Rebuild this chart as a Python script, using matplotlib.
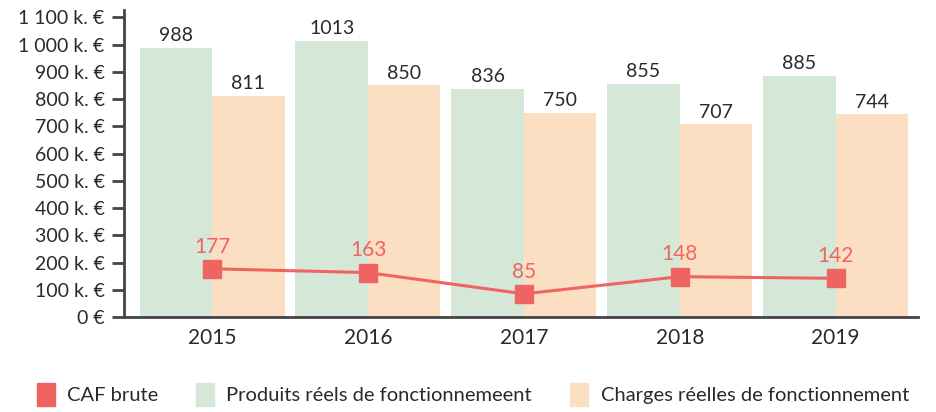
import numpy as np
import matplotlib.pyplot as plt
from matplotlib.ticker import FuncFormatter
from matplotlib.patches import Patch

plt.rcParams['font.family'] = ['Lato', 'DejaVu Sans']

# donnees
annees = ['2015', '2016', '2017', '2018', '2019']
produits = [988, 1013, 836, 855, 885]
charges = [811, 850, 750, 707, 744]
caf = [177, 163, 85, 148, 142]

c_vert = '#d5e8d8'
c_orange = '#fcdfc2'
c_rouge = '#ef6461'
c_texte = '#2a2a2a'

fig = plt.figure(figsize=(9.36, 4.12), dpi=100)
ax = fig.add_axes([0.1325, 0.2306, 0.8485, 0.7451])

x = np.arange(len(annees))
w = 0.465
ax.bar(x - w / 2, produits, w, color=c_vert, zorder=1)
ax.bar(x + w / 2, charges, w, color=c_orange, zorder=1)

for xi, v in zip(x, produits):
    ax.text(xi - w / 2, v + 14, str(v), ha='center', va='bottom', fontsize=14, color=c_texte)
for xi, v in zip(x, charges):
    ax.text(xi + w / 2, v + 14, str(v), ha='center', va='bottom', fontsize=14, color=c_texte)

ax.plot(x, caf, color=c_rouge, lw=2.2, marker='s', markersize=13, zorder=3)
for xi, v in zip(x, caf):
    ax.text(xi, v + 45, str(v), ha='center', va='bottom', fontsize=15, color=c_rouge)

def fmt(v, pos):
    if v == 0:
        return '0 €'
    s = f'{int(v):,}'.replace(',', ' ')
    return s + ' k. €'

ax.set_ylim(0, 1127)
ax.set_yticks(np.arange(0, 1101, 100))
ax.yaxis.set_major_formatter(FuncFormatter(fmt))
ax.set_xlim(-0.565, 4.53)
ax.set_xticks(x)
ax.set_xticklabels(annees)

for s in ['top', 'right']:
    ax.spines[s].set_visible(False)
for s in ['left', 'bottom']:
    ax.spines[s].set_color('#444444')
    ax.spines[s].set_linewidth(2)
ax.tick_params(axis='y', length=9, width=2, color='#444444', labelsize=14, labelcolor=c_texte, pad=5)
ax.tick_params(axis='x', length=0, labelsize=15, labelcolor=c_texte, pad=8)

handles = [Patch(color=c_rouge), Patch(color=c_vert), Patch(color=c_orange)]
labels = ['CAF brute', 'Produits réels de fonctionnemeent', 'Charges réelles de fonctionnement']
fig.legend(handles, labels, loc='lower center', ncol=3, bbox_to_anchor=(0.505, -0.03),
           frameon=False, fontsize=14.5, handlelength=0.9, handleheight=1.4,
           handletextpad=0.6, columnspacing=1.9, labelcolor=c_texte)

fig.savefig('out.png', dpi=100)
